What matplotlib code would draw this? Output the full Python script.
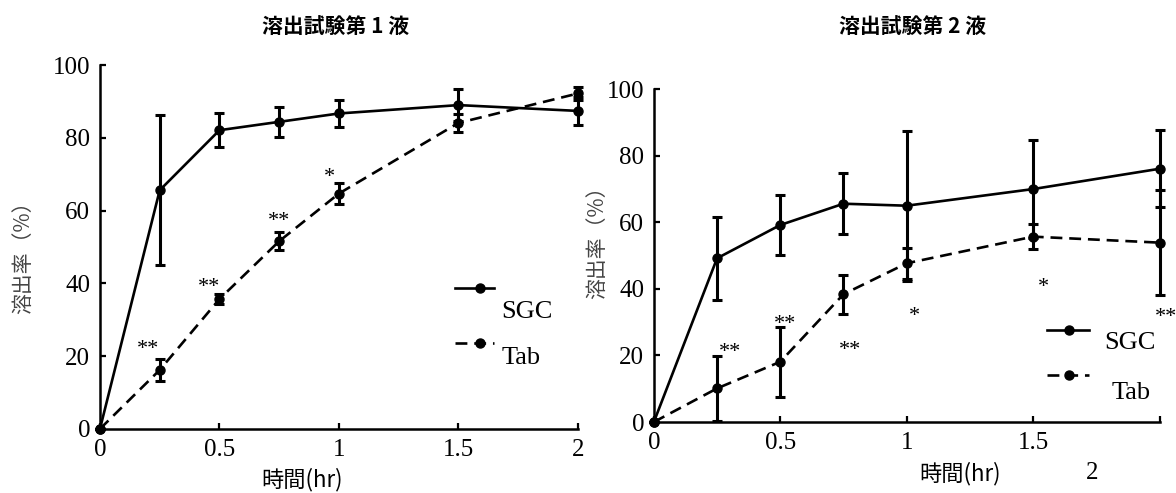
import numpy as np
import matplotlib.pyplot as plt

plt.rcParams['font.family'] = ['Liberation Serif', 'Noto Sans CJK JP']

times = [0, 0.25, 0.5, 0.75, 1.0, 1.5, 2.0]

# 溶出試験第1液
sgc1 = [0, 65.6, 82.1, 84.4, 86.7, 89.0, 87.4]
sgc1_err = [0, 20.6, 4.7, 4.1, 3.7, 4.4, 3.9]
tab1 = [0, 16.2, 35.7, 51.6, 64.7, 84.1, 92.2]
tab1_err = [0, 3.0, 1.3, 2.4, 2.8, 2.5, 1.8]
stars1 = [(0.20, 21.7, '**'), (0.455, 39.0, '**'), (0.75, 57.0, '**'), (0.96, 69.0, '*')]

# 溶出試験第2液
sgc2 = [0, 49.2, 59.2, 65.6, 65.0, 70.0, 76.1]
sgc2_err = [0, 12.5, 8.9, 9.2, 22.5, 14.7, 11.6]
tab2 = [0, 10.1, 18.1, 38.4, 47.7, 55.7, 53.9]
tab2_err = [0, 9.8, 10.5, 5.8, 4.7, 3.8, 15.7]
stars2 = [(0.30, 20.8, '**'), (0.52, 29.2, '**'), (0.775, 21.4, '**'),
          (1.03, 31.6, '*'), (1.54, 40.4, '*'), (2.025, 31.3, '**')]

titles = ['溶出試験第 1 液', '溶出試験第 2 液']


def draw(ax, sgc, sgc_err, tab, tab_err, stars):
    kw = dict(color='black', lw=1.9, marker='o', ms=6.5, capsize=3.5,
              elinewidth=2.2, capthick=2.2, clip_on=False)
    ax.errorbar(times, tab, yerr=tab_err, ls=(0, (4.5, 2.6)), **kw)
    ax.errorbar(times, sgc, yerr=sgc_err, ls='-', **kw)
    for x, y, s in stars:
        ax.text(x, y, s, ha='center', va='center', fontsize=16, clip_on=False)
    ax.set_xlim(0, 2)
    ax.set_ylim(0, 100)
    ax.set_yticks([0, 20, 40, 60, 80, 100])
    for s in ['top', 'right']:
        ax.spines[s].set_visible(False)
    for s in ['left', 'bottom']:
        ax.spines[s].set_linewidth(1.8)
    ax.tick_params(direction='in', length=4, width=1.6, labelsize=18, pad=7)


def legend(ax, x0, x1, xm, ys, yt, xt_s, xt_t, yt_s, yt_t):
    ax.plot([x0, x1], [ys, ys], color='black', lw=1.9, clip_on=False)
    ax.plot([xm], [ys], 'o', color='black', ms=6.5, clip_on=False)
    ax.plot([x0, x1], [yt, yt], color='black', lw=1.9, ls=(0, (4.5, 2.6)), clip_on=False)
    ax.plot([xm], [yt], 'o', color='black', ms=6.5, clip_on=False)
    ax.text(xt_s, yt_s, 'SGC', fontsize=19, va='center', ha='left')
    ax.text(xt_t, yt_t, 'Tab', fontsize=19, va='center', ha='left')


fig = plt.figure(figsize=(11.76, 4.93), dpi=100)
ax1 = fig.add_axes([0.085, 0.130, 0.4065, 0.738])
ax2 = fig.add_axes([0.556, 0.144, 0.430, 0.675])

draw(ax1, sgc1, sgc1_err, tab1, tab1_err, stars1)
ax1.set_xticks([0, 0.5, 1, 1.5, 2])
ax1.set_xticklabels(['0', '0.5', '1', '1.5', '2'])
legend(ax1, 1.485, 1.65, 1.59, 38.7, 23.6, 1.68, 1.68, 32.0, 19.5)

draw(ax2, sgc2, sgc2_err, tab2, tab2_err, stars2)
ax2.set_xticks([0, 0.5, 1, 1.5, 2])
ax2.set_xticklabels(['0', '0.5', '1', '1.5', ''])
legend(ax2, 1.553, 1.723, 1.64, 27.7, 14.2, 1.78, 1.81, 23.8, 8.7)

fig.text(0.285, 0.945, titles[0], ha='center', va='center', fontsize=15,
         fontweight='bold', family=['Noto Sans CJK JP'])
fig.text(0.776, 0.945, titles[1], ha='center', va='center', fontsize=15,
         fontweight='bold', family=['Noto Sans CJK JP'])

fig.text(0.0196, 0.489, '溶出率（%）', rotation=90, ha='center', va='center',
         fontsize=15, color='#444444', family=['Noto Sans CJK JP', 'Liberation Serif'])
fig.text(0.5077, 0.519, '溶出率（%）', rotation=90, ha='center', va='center',
         fontsize=15, color='#444444', family=['Noto Sans CJK JP', 'Liberation Serif'])

fig.text(0.257, 0.028, '時間(hr)', ha='center', va='center', fontsize=16,
         family=['Noto Sans CJK JP', 'Liberation Serif'])
fig.text(0.816, 0.040, '時間(hr)', ha='center', va='center', fontsize=16,
         family=['Noto Sans CJK JP', 'Liberation Serif'])
fig.text(0.9286, 0.041, '2', ha='center', va='center', fontsize=18)

fig.savefig('out.png', dpi=100)
